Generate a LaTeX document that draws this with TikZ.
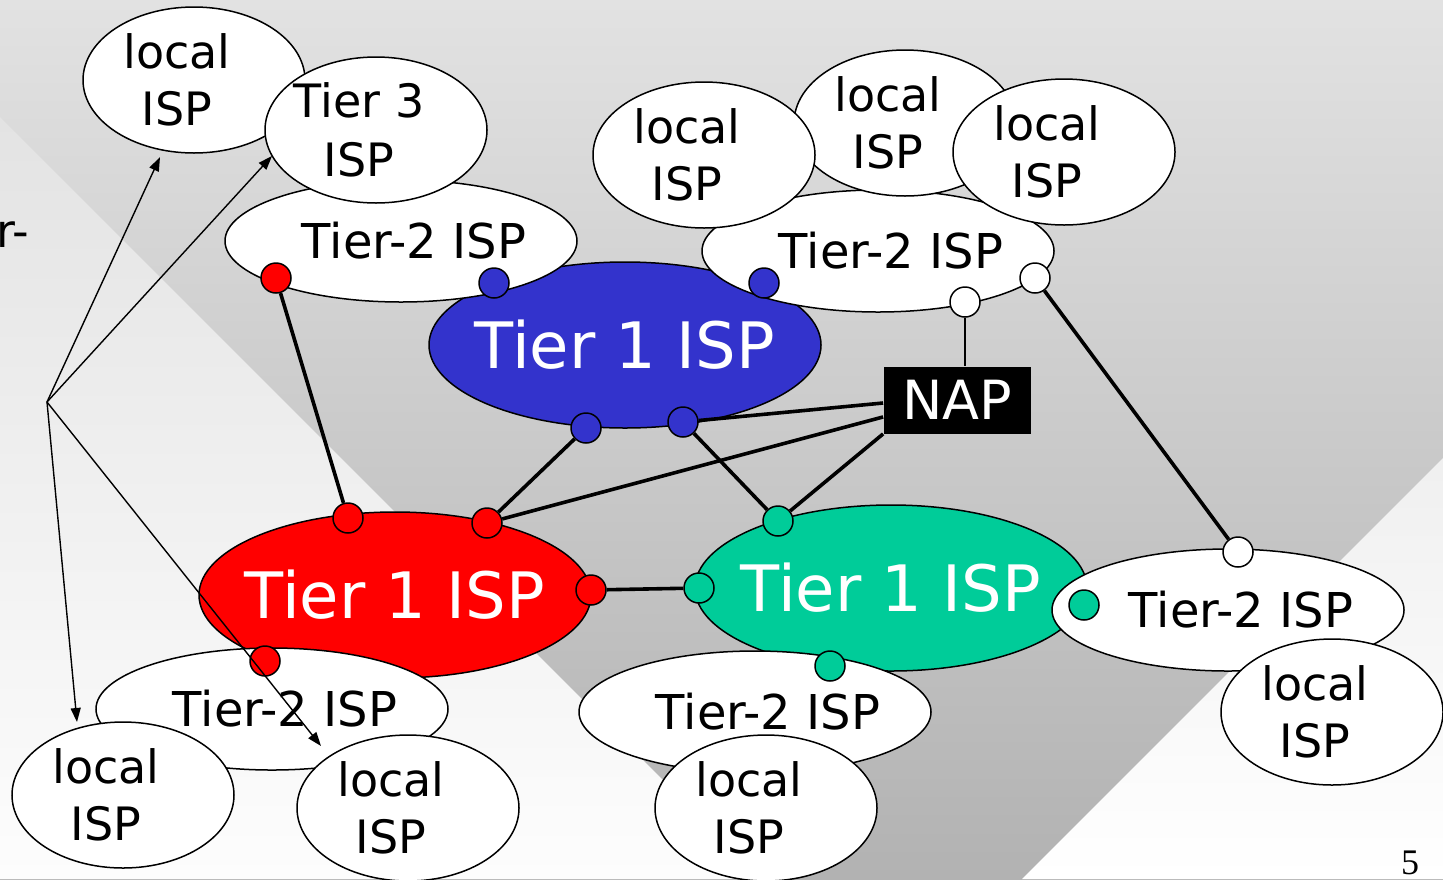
\documentclass[tikz,border=0pt]{standalone}
\usepackage{fontspec}
\setmainfont{DejaVu Sans}
\newfontfamily\pagefont{Liberation Serif}
\usetikzlibrary{shapes.geometric,arrows.meta,calc}

\definecolor{bgtop}{HTML}{E2E2E2}
\definecolor{bgmid}{HTML}{C4C4C4}
\definecolor{bgbot}{HTML}{B2B2B2}
\definecolor{lighttop}{HTML}{E3E3E3}
\definecolor{lightbot}{HTML}{FDFDFD}
\definecolor{tierblue}{HTML}{3333CC}
\definecolor{tierred}{HTML}{FF0000}
\definecolor{tiergreen}{HTML}{00CC99}

\tikzset{
  isp/.style={ellipse, draw, line width=0.75pt, fill=white, inner sep=0pt},
  localisp/.style={isp, minimum width=111pt, minimum height=73pt,
    label={[align=center, font=\fontsize{23}{28.5}\selectfont, xshift=-8.5pt]center:local\\ISP}},
  tiertwo/.style={isp, minimum width=176pt, minimum height=61pt,
    label={[font=\fontsize{24}{28}\selectfont, xshift=6.5pt]center:Tier-2 ISP}},
  tierone/.style={isp, minimum width=196pt, minimum height=83pt,
    label={[font=\fontsize{32}{38}\selectfont, text=white]center:Tier 1 ISP}},
  port/.style={circle, draw, line width=0.75pt, inner sep=0pt, minimum size=15pt},
  link/.style={line width=1.8pt},
  pointer/.style={line width=0.7pt, -{Triangle[length=7pt,width=5pt]}},
}

\begin{document}
\begin{tikzpicture}[x=0.5pt, y=-0.5pt]

\useasboundingbox (0,0) rectangle (1443,879);
\clip (0,0) rectangle (1443,879);

% background
\shade [top color=bgtop, middle color=bgmid, bottom color=bgbot] (0,0) rectangle (1443,879);
\shade [top color=lighttop, bottom color=lightbot] (0,117) -- (762,879) -- (0,879) -- cycle;
\shade [top color=white!94!black, bottom color=white] (1443,458) -- (1022,879) -- (1443,879) -- cycle;

% upper half
\node [tierone, fill=tierblue] (blue) at (625,345) {};
\node [tiertwo] (t2tl) at (401,241) {};
\node [localisp] (loctl) at (194,80) {};
\node [isp, minimum width=111pt, minimum height=73pt,
  label={[align=center, font=\fontsize{23}{29.5}\selectfont, xshift=-8.5pt]center:Tier 3\\ISP}] (tier3) at (376,130) {};
\node [tiertwo] (t2tr) at (878,251) {};
\node [localisp] (locb) at (905,123) {};
\node [localisp] (loca) at (704,155) {};
\node [localisp] (locc) at (1064,152) {};
\node [fill=black, text=white, minimum width=73.5pt, minimum height=33.5pt, inner sep=0pt,
  font=\fontsize{27}{30}\selectfont] (nap) at (957,400) {NAP};

% lower half
\node [tierone, fill=tierred] (red) at (395,595) {};
\node [tiertwo] (t2bl) at (272,709) {};
\node [localisp] (locbl) at (123,795) {};
\node [localisp] (locbm) at (408,808) {};
\node [tierone, fill=tiergreen] (green) at (891,588) {};
\node [tiertwo] (t2bc) at (755,712) {};
\node [localisp] (locbc) at (766,808) {};
\node [tiertwo] (t2r) at (1228,610) {};
\node [localisp] (locr) at (1332,712) {};

% ports
\node [port, fill=tierred] (rd1) at (276,278) {};
\node [port, fill=tierred] (rd2) at (348,518) {};
\node [port, fill=tierred] (rd3) at (487,523) {};
\node [port, fill=tierred] (rd4) at (591,590) {};
\node [port, fill=tierred] (rd5) at (265,661) {};
\node [port, fill=tierblue] (bd1) at (494,283) {};
\node [port, fill=tierblue] (bd2) at (764,283) {};
\node [port, fill=tierblue] (bd3) at (586,428) {};
\node [port, fill=tierblue] (bd4) at (683,422) {};
\node [port, fill=tiergreen] (gd1) at (778,521) {};
\node [port, fill=tiergreen] (gd2) at (699,588) {};
\node [port, fill=tiergreen] (gd3) at (1084,605) {};
\node [port, fill=tiergreen] (gd4) at (830,666) {};
\node [port, fill=white] (wd1) at (965,302) {};
\node [port, fill=white] (wd2) at (1035,278) {};
\node [port, fill=white] (wd3) at (1238,552) {};

% links
\draw [link] (rd1) -- (rd2);
\draw [link] (bd3) -- (rd3);
\draw [link] (rd3) -- ($(nap.west)!0.5!(nap.south west)$);
\draw [link] (bd4) -- ([yshift=-1.5pt]nap.west);
\draw [link] (bd4) -- (gd1);
\draw [link] (nap.south west) -- (gd1);
\draw [link] (rd4) -- (gd2);
\draw [line width=0.7pt] (wd1) -- (wd1 |- nap.north);
\draw [link] (wd2) -- (wd3);

% pointers
\coordinate (src) at (47,402);
\coordinate (tip1) at (160,157);
\coordinate (tip2) at (272,156);
\coordinate (tip3) at (77,722);
\coordinate (tip4) at (321,746);
\foreach \t in {tip1,tip2,tip3,tip4}
  \draw [pointer] (src) -- (\t);

\node [anchor=base west, inner sep=0pt, font=\fontsize{23}{28}\selectfont] (cut) at (-4,247) {r-};
\node [anchor=base, inner sep=0pt, font=\pagefont\fontsize{18}{20}\selectfont] (pagenum) at (1410,874) {5};

\end{tikzpicture}
\end{document}
